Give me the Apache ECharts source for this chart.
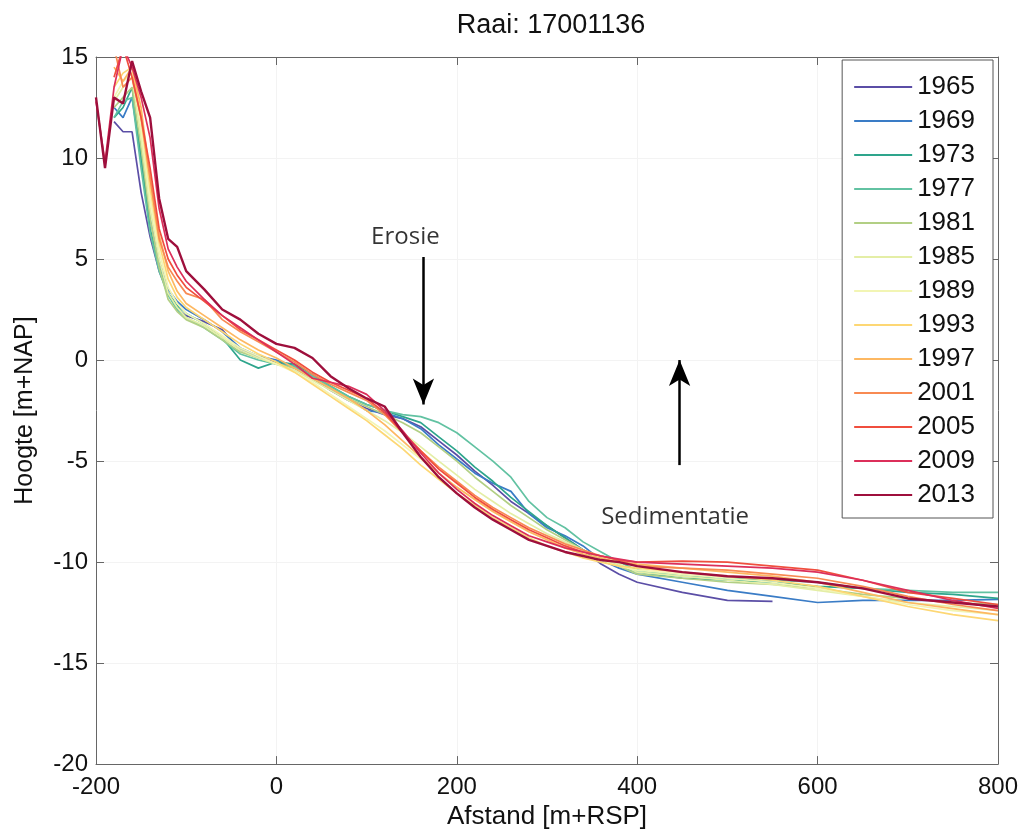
<!DOCTYPE html>
<html><head><meta charset="utf-8">
<script src="https://cdn.jsdelivr.net/npm/echarts@6/dist/echarts.min.js"></script>
<style>html,body{margin:0;padding:0;background:#fff}#c{width:1022px;height:835px}</style>
</head><body><div id="c"></div>
<script>
const distances = [-200,-190,-180,-170,-160,-150,-140,-130,-120,-110,-100,-80,-60,-40,-20,0,20,40,60,80,100,120,140,160,180,200,220,240,260,280,300,320,340,360,380,400,450,500,550,600,650,700,750,800];
const years = ['1965','1969','1973','1977','1981','1985','1989','1993','1997','2001','2005','2009','2013'];
const colors = ['#5b4ea6','#3a7cc6','#2ea58c','#62c2a2','#b2cf84','#e4eea6','#f2f5b4','#fdd774','#fdb862','#f88a52','#f04e3e','#dc2f5a','#9e0f3c'];
const h1965 = [null,null,11.8,11.3,11.3,8.3,6.1,4.4,3.3,2.5,2.2,1.9,1.5,0.5,0.1,-0.1,-0.4,-0.9,-1.5,-2.0,-2.4,-2.7,-2.9,-3.3,-4.0,-4.7,-5.5,-6.2,-7.0,-7.6,-8.2,-8.8,-9.4,-10.1,-10.6,-11.0,-11.5,-11.9,-11.95,null,null,null,null,null];
const h1969 = [null,null,12.5,12.0,13.0,10.0,7.0,4.9,3.5,2.9,2.5,2.0,1.4,0.6,0.2,0.0,-0.3,-0.8,-1.4,-1.9,-2.5,-2.6,-2.9,-3.4,-4.2,-4.9,-5.6,-6.1,-6.5,-7.6,-8.3,-8.7,-9.2,-9.9,-10.3,-10.6,-11.0,-11.4,-11.7,-12.0,-11.9,-11.9,-11.9,-11.85];
const h1973 = [null,null,12.0,12.5,13.5,10.0,6.5,4.6,3.3,2.7,2.3,1.8,1.1,0.0,-0.4,-0.1,-0.2,-0.7,-1.3,-1.8,-2.2,-2.5,-2.8,-3.1,-3.8,-4.5,-5.3,-6.0,-6.8,-7.5,-8.2,-8.8,-9.4,-9.8,-10.2,-10.5,-10.8,-10.9,-11.0,-11.2,-11.3,-11.5,-11.6,-11.8];
const h1977 = [null,null,12.0,12.8,13.0,9.5,6.3,4.4,3.2,2.5,2.1,1.6,1.0,0.3,0.0,-0.2,-0.3,-0.8,-1.3,-1.8,-2.2,-2.5,-2.7,-2.8,-3.1,-3.6,-4.3,-5.0,-5.8,-7.0,-7.8,-8.3,-9.0,-9.5,-10.0,-10.4,-10.7,-10.8,-10.9,-11.0,-11.3,-11.4,-11.5,-11.5];
const h1981 = [null,null,12.5,13.0,13.5,10.5,7.0,4.6,3.0,2.4,2.0,1.6,1.0,0.4,0.1,-0.2,-0.4,-0.9,-1.4,-1.9,-2.3,-2.7,-3.1,-3.6,-4.3,-5.0,-5.8,-6.5,-7.2,-7.8,-8.4,-8.9,-9.4,-9.8,-10.2,-10.6,-10.8,-11.0,-11.1,-11.3,-11.6,-11.8,-12.0,-12.1];
const h1985 = [null,null,12.8,13.5,14.0,11.0,7.5,5.0,3.3,2.6,2.1,1.7,1.1,0.5,0.1,-0.2,-0.5,-1.0,-1.5,-2.0,-2.5,-3.0,-3.6,-4.3,-5.0,-5.7,-6.4,-7.0,-7.6,-8.1,-8.6,-9.0,-9.4,-9.8,-10.1,-10.5,-10.7,-10.9,-11.1,-11.4,-11.7,-12.0,-12.2,-12.4];
const h1989 = [null,null,13.0,13.8,14.2,11.5,8.0,5.4,3.6,2.8,2.3,1.8,1.2,0.6,0.2,-0.2,-0.6,-1.1,-1.7,-2.3,-2.9,-3.5,-4.2,-4.9,-5.6,-6.3,-6.9,-7.5,-8.0,-8.5,-8.9,-9.3,-9.6,-9.9,-10.2,-10.4,-10.6,-10.8,-11.0,-11.3,-11.7,-12.1,-12.4,-12.6];
const h1993 = [null,null,13.5,14.2,14.5,12.0,8.5,5.8,4.0,3.1,2.6,2.0,1.4,0.8,0.3,-0.1,-0.6,-1.2,-1.8,-2.4,-3.0,-3.7,-4.4,-5.2,-5.9,-6.6,-7.2,-7.8,-8.3,-8.8,-9.2,-9.5,-9.8,-10.0,-10.2,-10.3,-10.5,-10.7,-10.9,-11.2,-11.7,-12.2,-12.6,-12.9];
const h1997 = [null,null,14.5,13.8,14.5,12.5,9.0,6.2,4.4,3.4,2.8,2.2,1.6,1.0,0.5,0.1,-0.4,-0.9,-1.4,-1.9,-2.5,-3.2,-4.0,-4.8,-5.6,-6.3,-6.9,-7.5,-8.0,-8.5,-8.9,-9.3,-9.6,-9.8,-10.0,-10.1,-10.3,-10.5,-10.7,-11.0,-11.5,-12.0,-12.3,-12.6];
const h2001 = [null,null,15.5,13.5,14.0,12.0,9.0,6.0,4.6,3.9,3.3,3.0,2.0,1.4,0.9,0.4,-0.1,-0.7,-1.2,-1.6,-2.0,-2.7,-3.6,-4.5,-5.3,-6.0,-6.7,-7.3,-7.8,-8.3,-8.7,-9.1,-9.4,-9.7,-9.9,-10.2,-10.3,-10.4,-10.6,-10.8,-11.2,-11.7,-12.1,-12.4];
const h2005 = [null,null,14.0,15.5,14.0,12.0,9.5,6.5,5.0,4.2,3.6,2.9,2.2,1.5,1.0,0.5,0.0,-0.6,-1.1,-1.5,-1.9,-2.6,-3.6,-4.5,-5.4,-6.1,-6.8,-7.4,-7.9,-8.4,-8.8,-9.2,-9.5,-9.7,-9.9,-10.0,-9.95,-10.0,-10.2,-10.4,-10.9,-11.5,-11.8,-12.1];
const h2009 = [12.8,9.8,13.5,15.5,14.5,13.0,11.0,7.5,5.5,4.6,3.9,3.0,2.2,1.6,1.0,0.4,-0.2,-0.9,-1.1,-1.3,-1.7,-2.5,-3.5,-4.6,-5.6,-6.4,-7.1,-7.7,-8.2,-8.7,-9.0,-9.3,-9.5,-9.7,-9.85,-10.0,-10.1,-10.2,-10.3,-10.5,-10.9,-11.4,-11.9,-12.3];
const h2013 = [13.0,9.5,13.0,12.7,14.8,13.3,12.0,8.0,6.0,5.6,4.4,3.5,2.5,2.0,1.3,0.8,0.6,0.1,-0.8,-1.4,-1.9,-2.3,-3.6,-4.8,-5.8,-6.6,-7.3,-7.9,-8.4,-8.9,-9.2,-9.5,-9.7,-9.9,-10.0,-10.2,-10.5,-10.7,-10.8,-11.0,-11.3,-11.8,-12.0,-12.2];
const heights = [h1965,h1969,h1973,h1977,h1981,h1985,h1989,h1993,h1997,h2001,h2005,h2009,h2013];
const xTicks = [-200,0,200,400,600,800];
const yTicks = [-20,-15,-10,-5,0,5,10,15];
// annotations (data coords)
const erosieArrow = [[163,5.1],[163,-2.2]];
const sedimArrow = [[447,-5.2],[447,0.0]];
const erosieLabel = [143,6.1];
const sedimLabel = [442,-7.8];

const FONT = 'Liberation Sans';
const AX = '#666';
const series = years.map((y,i)=>({
  name:y, type:'line', showSymbol:false, symbol:'none', clip:true, animation:false,
  lineStyle:{color:colors[i], width: i===12?2.4:1.7},
  itemStyle:{color:colors[i]},
  data: distances.map((d,k)=>heights[i][k]==null?null:[d,heights[i][k]]).filter(p=>p)
}));
series.push({
  type:'line', data:[], animation:false,
  markLine:{silent:true, symbol:['none','arrow'], symbolSize:[16,26],
    lineStyle:{color:'#000', width:2.5, type:'solid'}, label:{show:false},
    data:[[{coord:erosieArrow[0]},{coord:erosieArrow[1]}],[{coord:sedimArrow[0]},{coord:sedimArrow[1]}]]}
});
series.push({
  type:'scatter', symbolSize:0, animation:false, silent:true,
  data:[{value:erosieLabel, name:'Erosie'},{value:sedimLabel, name:'Sedimentatie'}],
  label:{show:true, position:'inside', formatter:p=>p.name, color:'#000', fontSize:24, fontFamily:'Open Sans'}
});
const chart = echarts.init(document.getElementById('c'));
chart.setOption({
  animation:false,
  title:{text:'Raai: 17001136', left:546, textAlign:'center', top:7, textStyle:{fontFamily:FONT, fontSize:27, fontWeight:'normal', color:'#111'}},
  grid:{left:96, right:24, top:57, bottom:68},
  legend:{data:years, orient:'vertical', right:29, top:60, icon:'rect', itemWidth:58, itemHeight:2, itemGap:8,
    padding:[14,18,10,12], borderColor:'#555', borderWidth:1, backgroundColor:'#fff',
    textStyle:{fontFamily:FONT, fontSize:26, lineHeight:26, color:'#111'}},
  xAxis:[{type:'value', min:-200, max:800, interval:200, name:'Afstand [m+RSP]', nameLocation:'middle', nameGap:38,
    nameTextStyle:{fontFamily:FONT, fontSize:26, color:'#111'},
    axisLine:{onZero:false, lineStyle:{color:AX}}, axisTick:{inside:true, length:8, lineStyle:{color:AX}},
    axisLabel:{fontFamily:FONT, fontSize:24, color:'#111', margin:11, formatter:v=>xTicks.includes(v)?String(v):''},
    splitLine:{show:true, lineStyle:{color:'#f3f3f3'}}},
    {type:'value', position:'top', min:-200, max:800, interval:200, axisLine:{show:true, onZero:false, lineStyle:{color:AX}},
    axisTick:{inside:true, length:8, lineStyle:{color:AX}}, axisLabel:{show:false}, splitLine:{show:false}}],
  yAxis:[{type:'value', min:-20, max:15, interval:5, name:'Hoogte [m+NAP]', nameLocation:'middle', nameGap:58, nameRotate:90,
    nameTextStyle:{fontFamily:FONT, fontSize:25, color:'#111'},
    axisLine:{show:true, onZero:false, lineStyle:{color:AX}}, axisTick:{show:true, inside:true, length:8, lineStyle:{color:AX}},
    axisLabel:{fontFamily:FONT, fontSize:24, color:'#111', margin:8, formatter:v=>yTicks.includes(v)?String(v):''},
    splitLine:{show:true, lineStyle:{color:'#f3f3f3'}}},
    {type:'value', position:'right', min:-20, max:15, interval:5, axisLine:{show:true, onZero:false, lineStyle:{color:AX}},
    axisTick:{show:true, inside:true, length:8, lineStyle:{color:AX}}, axisLabel:{show:false}, splitLine:{show:false}}],
  series:series
});
</script></body></html>
